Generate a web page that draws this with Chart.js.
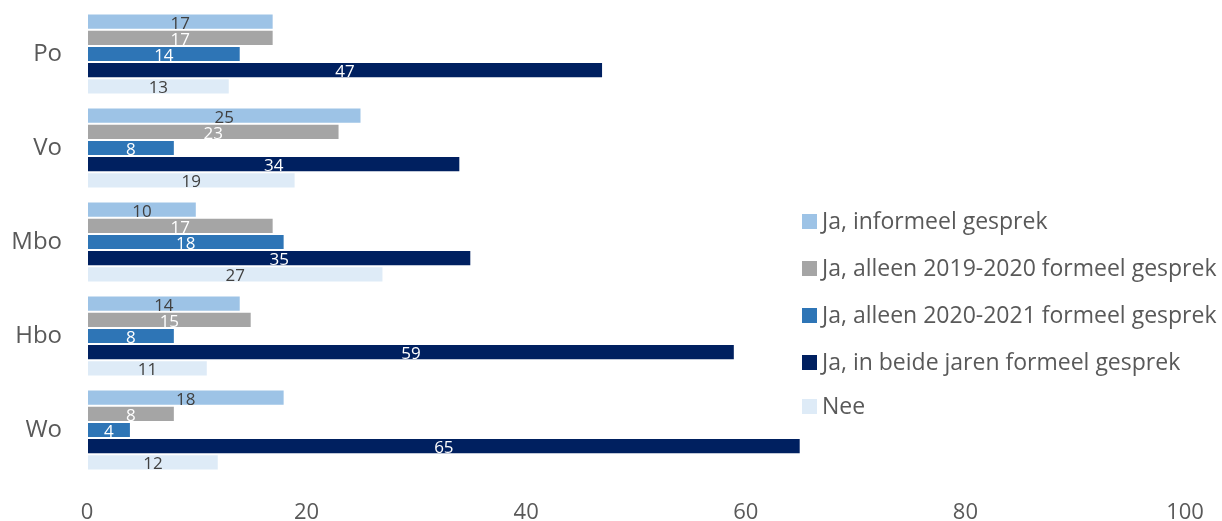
<!DOCTYPE html>
<html>
<head>
<meta charset="utf-8">
<script src="https://cdn.jsdelivr.net/npm/chart.js@4/dist/chart.umd.min.js"></script>
<style>
  html, body { margin: 0; padding: 0; background: #fff; }
  #wrap { position: relative; width: 1222px; height: 521px; }
</style>
</head>
<body>
<div id="wrap"><canvas id="chart"></canvas></div>
<script>
// categories (top to bottom)
const categories = ['Po', 'Vo', 'Mbo', 'Hbo', 'Wo']

// series
const seriesNames = [
  'Ja, informeel gesprek',
  'Ja, alleen 2019-2020 formeel gesprek',
  'Ja, alleen 2020-2021 formeel gesprek',
  'Ja, in beide jaren formeel gesprek',
  'Nee'
]
const informeel = [17, 25, 10, 14, 18]
const alleen1920 = [17, 23, 17, 15, 8]
const alleen2021 = [14, 8, 18, 8, 4]
const beideJaren = [47, 34, 35, 59, 65]
const nee = [13, 19, 27, 11, 12]

const xTicks = [0, 20, 40, 60, 80, 100]

const seriesValues = [informeel, alleen1920, alleen2021, beideJaren, nee]
const seriesColors = ['#9DC3E6', '#A5A5A5', '#2E75B6', '#002060', '#DEEBF7']
const labelColors = ['#404040', '#ffffff', '#ffffff', '#ffffff', '#404040']

const FONT = '"Open Sans", "Noto Sans", sans-serif'

// value labels centred in each bar
const barLabels = {
  id: 'barLabels',
  afterDatasetsDraw(chart) {
    const ctx = chart.ctx
    ctx.save()
    ctx.font = '17px ' + FONT
    ctx.textAlign = 'center'
    ctx.textBaseline = 'middle'
    chart.data.datasets.forEach((ds, i) => {
      const meta = chart.getDatasetMeta(i)
      meta.data.forEach((bar, j) => {
        ctx.fillStyle = labelColors[i]
        ctx.fillText(ds.data[j], (bar.x + bar.base) / 2, bar.y + 2)
      })
    })
    ctx.restore()
  }
}

// legend drawn over the right side of the plot area, like the original
const sideLegend = {
  id: 'sideLegend',
  afterDraw(chart) {
    const ctx = chart.ctx
    const x = 802
    const ys = [221, 268, 315, 362, 406]
    ctx.save()
    ctx.font = '23px ' + FONT
    ctx.textBaseline = 'middle'
    ctx.textAlign = 'left'
    chart.data.datasets.forEach((ds, i) => {
      ctx.fillStyle = ds.backgroundColor
      ctx.fillRect(x, ys[i] - 7, 15, 15)
      ctx.fillStyle = '#595959'
      ctx.fillText(ds.label, x + 20, ys[i] + 1)
    })
    ctx.restore()
  }
}

new Chart(document.getElementById('chart'), {
  type: 'bar',
  data: {
    labels: categories,
    datasets: seriesNames.map((name, i) => ({
      label: name,
      data: seriesValues[i],
      backgroundColor: seriesColors[i],
      borderColor: 'rgba(255,255,255,0.5)',
      borderWidth: 1,
      borderSkipped: false,
      barPercentage: 1,
      categoryPercentage: 0.86
    }))
  },
  options: {
    indexAxis: 'y',
    responsive: true,
    maintainAspectRatio: false,
    animation: false,
    layout: { padding: { top: 7, right: 37, left: 0, bottom: 0 } },
    scales: {
      x: {
        min: 0,
        max: 100,
        afterBuildTicks: (scale) => {
          scale.ticks = xTicks.map((v) => ({ value: v }))
        },
        afterFit: (scale) => {
          scale.height = 44
          scale.paddingLeft = 0
          scale.paddingRight = 0
        },
        grid: { display: false, drawTicks: false },
        border: { display: false },
        ticks: {
          padding: 23,
          color: '#595959',
          font: { family: FONT, size: 22 }
        }
      },
      y: {
        afterFit: (scale) => {
          scale.width = 87
          scale.paddingTop = 0
          scale.paddingBottom = 0
        },
        grid: { display: false, drawTicks: false },
        border: { display: false },
        ticks: {
          padding: 25,
          color: '#595959',
          font: { family: FONT, size: 24 }
        }
      }
    },
    plugins: {
      legend: { display: false },
      tooltip: { enabled: false }
    }
  },
  plugins: [barLabels, sideLegend]
})
</script>
</body>
</html>
